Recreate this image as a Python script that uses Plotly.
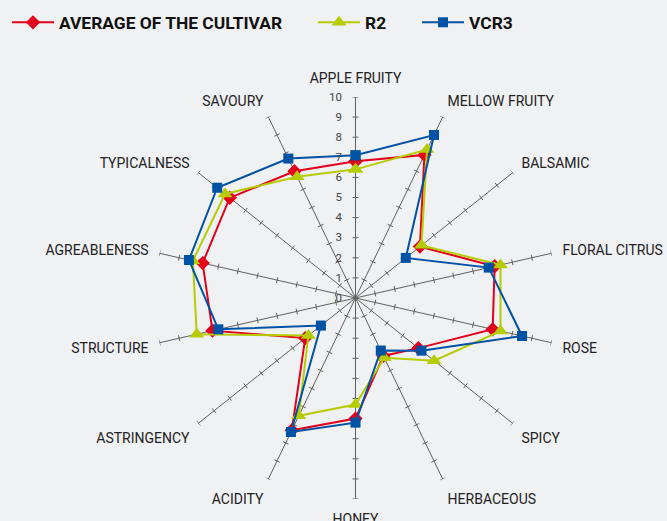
import math
import plotly.graph_objects as go

categories = ["APPLE FRUITY", "MELLOW FRUITY", "BALSAMIC", "FLORAL CITRUS", "ROSE", "SPICY",
              "HERBACEOUS", "HONEY", "ACIDITY", "ASTRINGENCY", "STRUCTURE", "AGREABLENESS",
              "TYPICALNESS", "SAVOURY"]
average_cultivar = [6.8, 7.9, 4.1, 7.1, 7.0, 4.0, 3.2, 6.0, 7.3, 3.2, 7.3, 7.8, 8.0, 7.0]
r2 = [6.4, 8.2, 4.2, 7.4, 7.4, 5.0, 3.3, 5.3, 6.5, 3.0, 8.1, 8.3, 8.3, 6.7]
vcr3 = [7.1, 9.0, 3.2, 6.8, 8.5, 4.2, 2.9, 6.2, 7.4, 2.2, 7.0, 8.5, 8.8, 7.7]
radial_ticks = list(range(0, 11))

n = len(categories)
angles = [i * 360.0 / n for i in range(n)]

BG = "#f0f1f3"
AXIS = "#606060"
FONT = "Roboto, Liberation Sans, sans-serif"
W, H = 667, 521
cx, cy, R = 355.5, 298.0, 201.0

fig = go.Figure()

# spoke tick marks (small perpendicular dashes at each unit)
h = 0.15
tr, tt = [], []
for a in angles:
    for r in radial_ticks[1:]:
        rr = math.sqrt(r * r + h * h)
        d = math.degrees(math.atan(h / r))
        tr += [rr, rr, None]
        tt += [a - d, a + d, None]
fig.add_trace(go.Scatterpolar(r=tr, theta=tt, mode="lines",
                              line=dict(color=AXIS, width=1),
                              showlegend=False, hoverinfo="skip"))

series = [
    ("AVERAGE OF THE CULTIVAR", average_cultivar, "#e2001a", "diamond", 11, "legend", 12),
    ("R2", r2, "#b5cc00", "triangle-up", 13, "legend2", 318),
    ("VCR3", vcr3, "#0052a5", "square", 10, "legend3", 422),
]
legends = {}
for name, vals, col, sym, sz, lg, lx in series:
    fig.add_trace(go.Scatterpolar(
        r=vals + vals[:1], theta=angles + angles[:1], name=name,
        mode="lines+markers",
        line=dict(color=col, width=2),
        marker=dict(symbol=sym, size=sz, color=col),
        legend=lg,
    ))
    legends[lg] = dict(
        orientation="h", x=(lx - 5) / W, y=1 - 22.5 / H, xanchor="left", yanchor="middle",
        font=dict(size=17.4, color="#111111", family=FONT, weight="bold"),
        bgcolor="rgba(0,0,0,0)", borderwidth=0, itemwidth=42,
    )

fig.update_layout(
    width=W, height=H, autosize=False,
    margin=dict(l=0, r=0, t=0, b=0),
    paper_bgcolor=BG,
    font=dict(family=FONT, color="#222222"),
    polar=dict(
        domain=dict(x=[(cx - R) / W, (cx + R) / W], y=[(H - cy - R) / H, (H - cy + R) / H]),
        bgcolor=BG,
        angularaxis=dict(
            direction="clockwise", rotation=90, type="linear",
            tickmode="array", tickvals=angles, ticktext=categories,
            showline=False, showgrid=True, gridcolor=AXIS, gridwidth=1,
            ticks="outside", ticklen=8, tickcolor="rgba(0,0,0,0)",
            tickfont=dict(size=14, color="#222222", family=FONT),
        ),
        radialaxis=dict(
            range=[0, 10], angle=90, side="counterclockwise", tickangle=90,
            tickmode="array", tickvals=radial_ticks,
            showgrid=False, showline=False,
            ticks="outside", ticklen=9, tickcolor="rgba(0,0,0,0)",
            tickfont=dict(size=11.5, color="#444444", family=FONT),
        ),
    ),
    **legends,
)

fig.write_html("out.html", config={"displayModeBar": False},
               post_script="document.body.style.margin='0px';document.body.style.background='#f0f1f3';")
